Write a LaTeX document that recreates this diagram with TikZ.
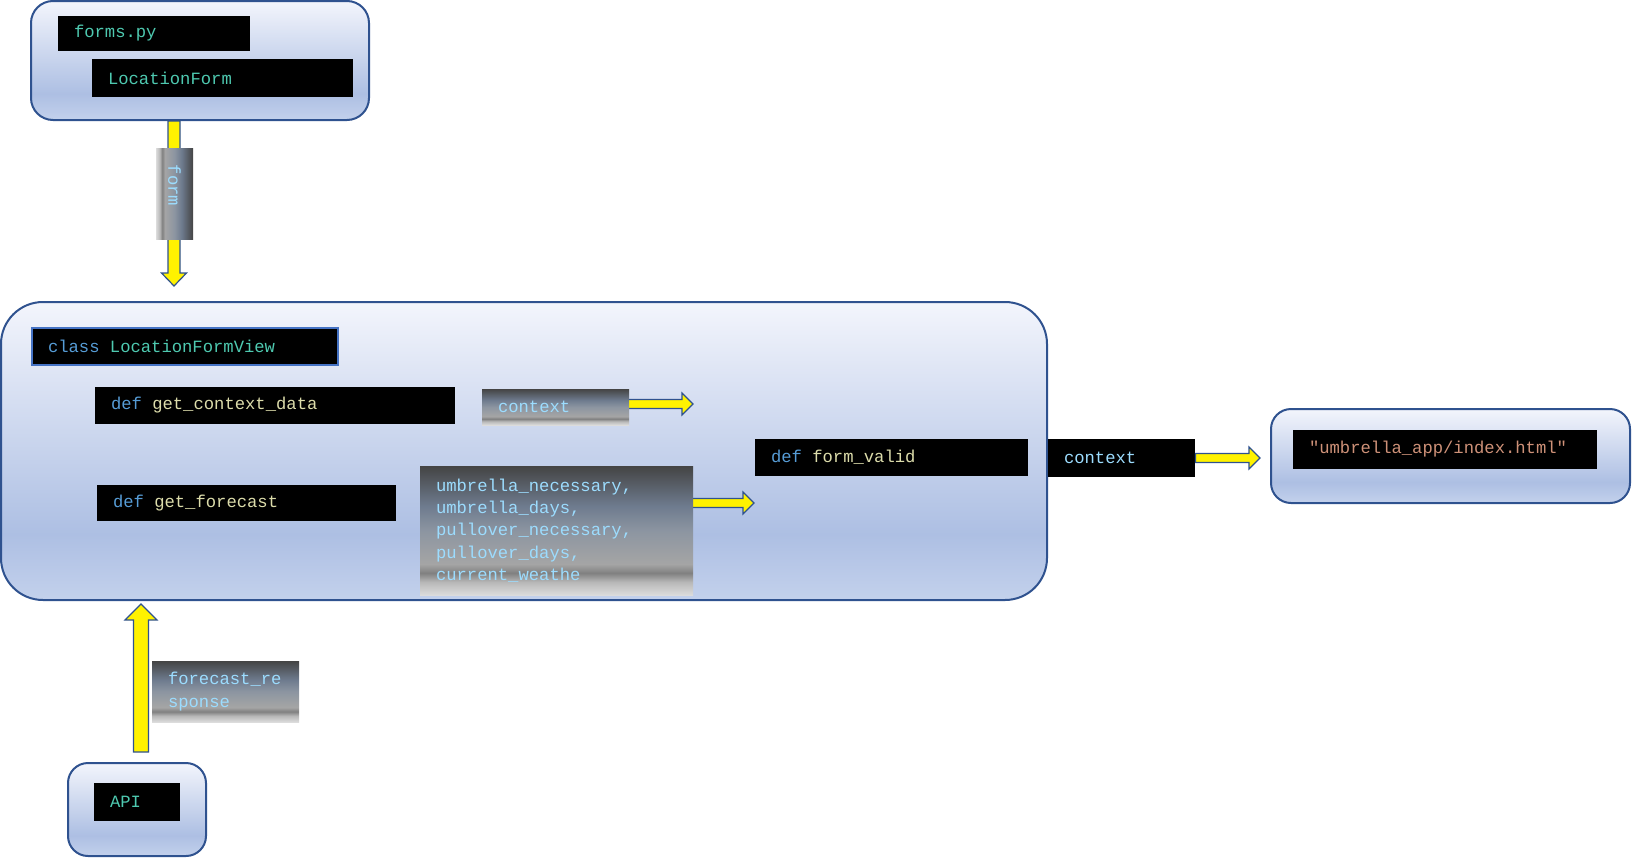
\documentclass[tikz,border=0pt]{standalone}
\usepackage{fontspec}
\usetikzlibrary{calc}
\newfontfamily\code{Liberation Mono}
\newcommand\msp{\hspace*{0.6em}}
\definecolor{bord}{HTML}{2F528F}
\definecolor{clsbord}{HTML}{4472C4}
\definecolor{kw}{HTML}{569CD6}
\definecolor{fn}{HTML}{DCDCAA}
\definecolor{cls}{HTML}{4EC9B0}
\definecolor{var}{HTML}{9CDCFE}
\definecolor{str}{HTML}{CE9178}
\definecolor{bgA}{HTML}{C3D1EC}
\definecolor{bgB}{HTML}{ADBFE3}
\definecolor{bgC}{HTML}{F3F5FC}
\definecolor{mA}{HTML}{DCDCDC}
\definecolor{mB}{HTML}{B8B8B8}
\definecolor{mC}{HTML}{808080}
\definecolor{mD}{HTML}{A5A5A5}
\definecolor{mE}{HTML}{8C95A1}
\definecolor{mF}{HTML}{6E7B8E}
\definecolor{mG}{HTML}{444444}
\pgfdeclareverticalshading{bluegrad}{100bp}{color(0bp)=(bgA); color(25bp)=(bgA); color(36bp)=(bgB); color(75bp)=(bgC); color(100bp)=(bgC)}
\pgfdeclareverticalshading{metal}{100bp}{color(0bp)=(mA); color(25bp)=(mA); color(30bp)=(mB); color(33.5bp)=(mC); color(37bp)=(mD); color(50bp)=(mE); color(59.5bp)=(mF); color(75bp)=(mG); color(100bp)=(mG)}
\newcommand\blockarr[5]{%
  \path (#1) coordinate (baS) (#2) coordinate (baT);
  \path ($(baT)!#5!(baS)$) coordinate (baH);
  \draw[arrowst] ($(baS)!#3!90:(baT)$) -- ($(baH)!#3!90:(baT)$) -- ($(baH)!#4!90:(baT)$) -- (baT) -- ($(baH)!#4!-90:(baT)$) -- ($(baH)!#3!-90:(baT)$) -- ($(baS)!#3!-90:(baT)$) -- cycle;}
\tikzset{
  rbox/.style={draw=bord, line width=1pt, shade, shading=bluegrad, rounded corners=#1, inner sep=0pt},
  codefont/.style={font=\code\fontsize{8.6}{11.2}\selectfont},
  blk/.style={fill=black, inner xsep=8pt, inner ysep=0pt, align=left, codefont},
  gry/.style={shade, shading=metal, inner xsep=8pt, inner ysep=0pt, align=left, codefont, text=var},
  arrowst/.style={fill=yellow, draw=bord, line width=0.6pt, line join=miter}
}
\begin{document}
\begin{tikzpicture}[x=0.5pt,y=-0.5pt]
\useasboundingbox (0,0) rectangle (1632,857);
% containers
\node[rbox=11pt, minimum width=169pt, minimum height=59.5pt] (forms) at (200,60.5) {};
\node[rbox=21pt, minimum width=523pt, minimum height=149pt] (view) at (524,451) {};
\node[rbox=10pt, minimum width=179.5pt, minimum height=47pt] (tmplbox) at (1450.5,456) {};
\node[rbox=10pt, minimum width=69pt, minimum height=46.5pt] (apibox) at (137,809.5) {};
% code boxes
\node[blk, minimum width=96pt, text width=80pt, minimum height=17.5pt] (formspy) at (154,33.5) {\textcolor{cls}{forms.py}};
\node[blk, minimum width=130.5pt, text width=114.5pt, minimum height=19pt] (locform) at (222.5,78) {\textcolor{cls}{LocationForm}};
\node[blk, draw=clsbord, line width=0.8pt, minimum width=153pt, text width=137pt, minimum height=18.5pt] (clsview) at (185,346.5) {\textcolor{kw}{class}\msp\textcolor{cls}{LocationFormView}};
\node[blk, minimum width=180pt, text width=164pt, minimum height=18.5pt] (gcd) at (275,405.5) {\textcolor{kw}{def}\msp\textcolor{fn}{get\_context\_data}};
\node[blk, minimum width=149.5pt, text width=133.5pt, minimum height=18pt] (gf) at (246.5,503) {\textcolor{kw}{def}\msp\textcolor{fn}{get\_forecast}};
\node[blk, minimum width=136.5pt, text width=120.5pt, minimum height=18.5pt] (fv) at (891.5,457.5) {\textcolor{kw}{def}\msp\textcolor{fn}{form\_valid}};
\node[blk, minimum width=73.5pt, text width=57.5pt, minimum height=19pt] (ctxb) at (1121.5,458) {\textcolor{var}{context}};
\node[blk, minimum width=152pt, text width=136pt, minimum height=19.5pt] (tmpl) at (1445,449.5) {\textcolor{str}{"umbrella\_app/index.html"}};
\node[blk, minimum width=43pt, text width=27pt, minimum height=19pt] (api) at (137,802) {\textcolor{cls}{API}};
% arrows
\coordinate (d1) at (174,286);
\blockarr{d1 |- forms.south}{d1}{3pt}{6.25pt}{6.5pt}
\coordinate (c1) at (693,404);
\blockarr{620,404}{c1}{2.25pt}{5.5pt}{5.5pt}
\coordinate (c2) at (754,503);
\blockarr{685,503}{c2}{2.25pt}{5.5pt}{5.5pt}
\coordinate (c3) at (1260,458);
\blockarr{ctxb.east}{c3}{2.25pt}{5.5pt}{5.5pt}
\coordinate (u0) at (141,752);
\coordinate (u1) at (141,604);
\blockarr{u0}{u1}{3.75pt}{8pt}{8pt}
% gradient labels
\node[gry, shading angle=-90, minimum width=18.5pt, minimum height=45pt, inner xsep=0pt, inner ysep=8pt, align=center] (formlbl) at (174.5,194) {\rotatebox{-90}{form\hspace*{8.4pt}}};
\node[gry, minimum width=73.5pt, text width=57.5pt, minimum height=18pt] (ctx) at (555.5,407) {context};
\node[gry, minimum width=136.5pt, text width=120.5pt, minimum height=64.5pt] (umb) at (556.5,530.5) {umbrella\_necessary,\\umbrella\_days,\\pullover\_necessary,\\pullover\_days,\\current\_weathe};
\node[gry, minimum width=73.5pt, text width=57.5pt, minimum height=30.5pt] (fr) at (225.5,691.5) {forecast\_re\\sponse};
\end{tikzpicture}
\end{document}
